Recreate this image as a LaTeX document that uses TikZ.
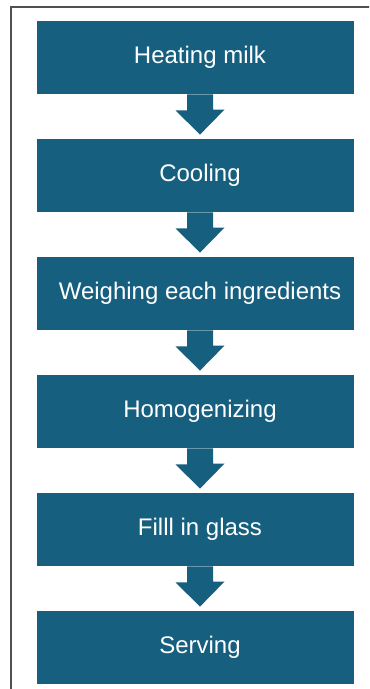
\documentclass[tikz,border=0pt]{standalone}
\usepackage{fontspec}
\setmainfont{Liberation Sans}
\usepackage{tikz}

\definecolor{boxblue}{RGB}{23,95,127}
\definecolor{framegray}{RGB}{80,80,80}

\begin{document}
\begin{tikzpicture}[node distance=59pt,
  main node/.style={fill=boxblue,text=white,minimum width=158.5pt,minimum height=36.5pt,
    inner sep=0pt,font=\fontsize{12}{14}\selectfont,execute at begin node=\hspace*{4.5pt}},
  flow/.style={fill=boxblue,draw=none,
    to path={([xshift=-4.25pt]\tikztostart.south) -- ++(0,-8pt) -- ++(-5.75pt,0)
      -- ([xshift=2.25pt,yshift=2pt]\tikztotarget.north) -- ++(12.25pt,12.5pt)
      -- ++(-5.75pt,0) -- ([xshift=8.75pt]\tikztostart.south) -- cycle}}]
\path[use as bounding box,clip] (0,0) rectangle (184.5pt,-344.5pt);
\draw[framegray,line width=1pt] (5.5pt,-3.5pt) rectangle (200pt,-360pt);

\node[main node] at (97.75pt,-28.75pt) (1) {Heating milk};
\node[main node, below of=1] (2) {Cooling};
\node[main node, below of=2] (3) {Weighing each ingredients};
\node[main node, below of=3] (4) {Homogenizing};
\node[main node, below of=4] (5) {Filll in glass};
\node[main node, below of=5] (6) {Serving};

\path
(1) edge[flow] (2)
(2) edge[flow] (3)
(3) edge[flow] (4)
(4) edge[flow] (5)
(5) edge[flow] (6)
;
\end{tikzpicture}
\end{document}
